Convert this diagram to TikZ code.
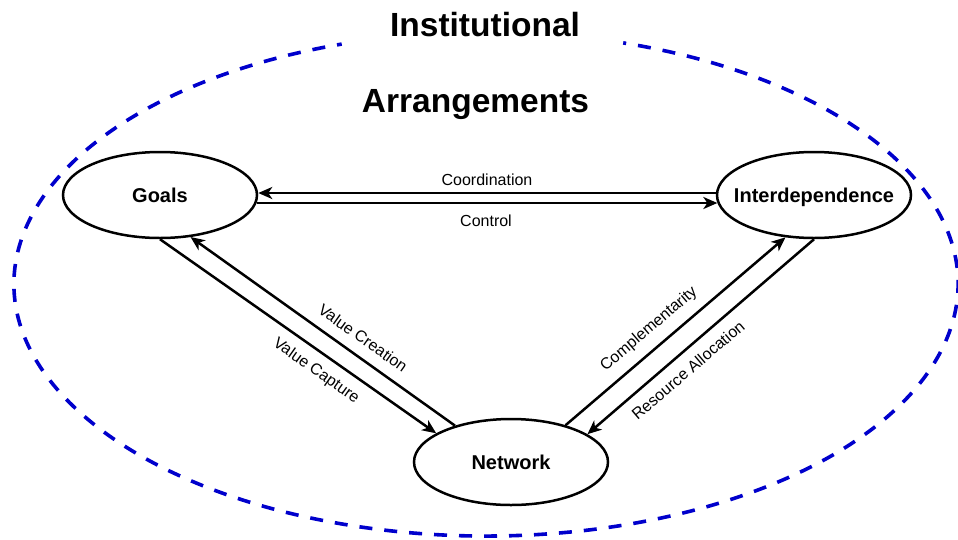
\documentclass[tikz,border=0pt]{standalone}
\usepackage{fontspec}
\setmainfont{Liberation Sans}
\usetikzlibrary{arrows.meta,shapes.geometric}
\definecolor{frameblue}{RGB}{0,0,204}
\begin{document}
\begin{tikzpicture}[x=1pt,y=-1pt,
  concept/.style={ellipse, draw, line width=2.5pt, minimum width=194pt,
    minimum height=86pt, inner sep=0pt},
  conceptlabel/.style={font=\fontsize{20}{24}\selectfont\bfseries,
    inner sep=0pt, text height=14.3pt, text depth=0pt},
  flow/.style={line width=2.5pt, -{Stealth[length=14pt,width=12pt,inset=4pt]}},
  flowlabel/.style={font=\fontsize{16}{19}\selectfont, inner sep=0pt,
    text height=11.5pt, text depth=0pt},
  title/.style={font=\fontsize{33.5}{40}\selectfont\bfseries, inner sep=0pt,
    anchor=base},
  boundary/.style={draw=frameblue, line width=3.6pt,
    dash pattern=on 13pt off 12pt}]

\useasboundingbox (0,0) rectangle (958,539);

% dashed boundary of the institutional setting, open at the top for the title
\draw[boundary, dash phase=10pt]
  ([shift={(73.1:472pt and 252pt)}]486,284)
  arc[start angle=73.1, end angle=-252.2, x radius=472pt, y radius=252pt];

% title
\node[title] (inst) at (485,36) {Institutional};
\node[title] (arr) at (475.5,112) {Arrangements};

% the three concepts
\node[concept, label={[conceptlabel]center:Goals}] (goals) at (160,195) {};
\node[concept, label={[conceptlabel]center:Interdependence}] (inter) at (814,195) {};
\node[concept, label={[conceptlabel]center:Network}] (net) at (511,462) {};

% Goals <-> Interdependence (kept level)
\draw[flow] ([yshift=2pt]inter.west) -- ([yshift=2pt]goals.east);
\draw[flow] ([yshift=-8pt,xshift=-1.6pt]goals.east)
  -- ([yshift=-8pt,xshift=1.6pt]inter.west);

% Goals <-> Network
\draw[flow] (net.147.2) -- (goals.-54.1);
\draw[flow] (goals.-90) -- (net.159.8);

% Network <-> Interdependence
\draw[flow] (net.34.2) -- (inter.-124.6);
\draw[flow] (inter.-90) -- (net.20.5);

% connector labels
\node[flowlabel] (lcoord) at (487,179.5) {Coordination};
\node[flowlabel] (lctrl) at (486,220.5) {Control};
\node[flowlabel, rotate=-35.4] (lcreate) at (363,338) {Value Creation};
\node[flowlabel, rotate=-35.4] (lcapture) at (317,370) {Value Capture};
\node[flowlabel, rotate=40.4] (lcomp) at (648,328) {Complementarity};
\node[flowlabel, rotate=40.4] (lres) at (688,370) {Resource Allocation};
\end{tikzpicture}
\end{document}
